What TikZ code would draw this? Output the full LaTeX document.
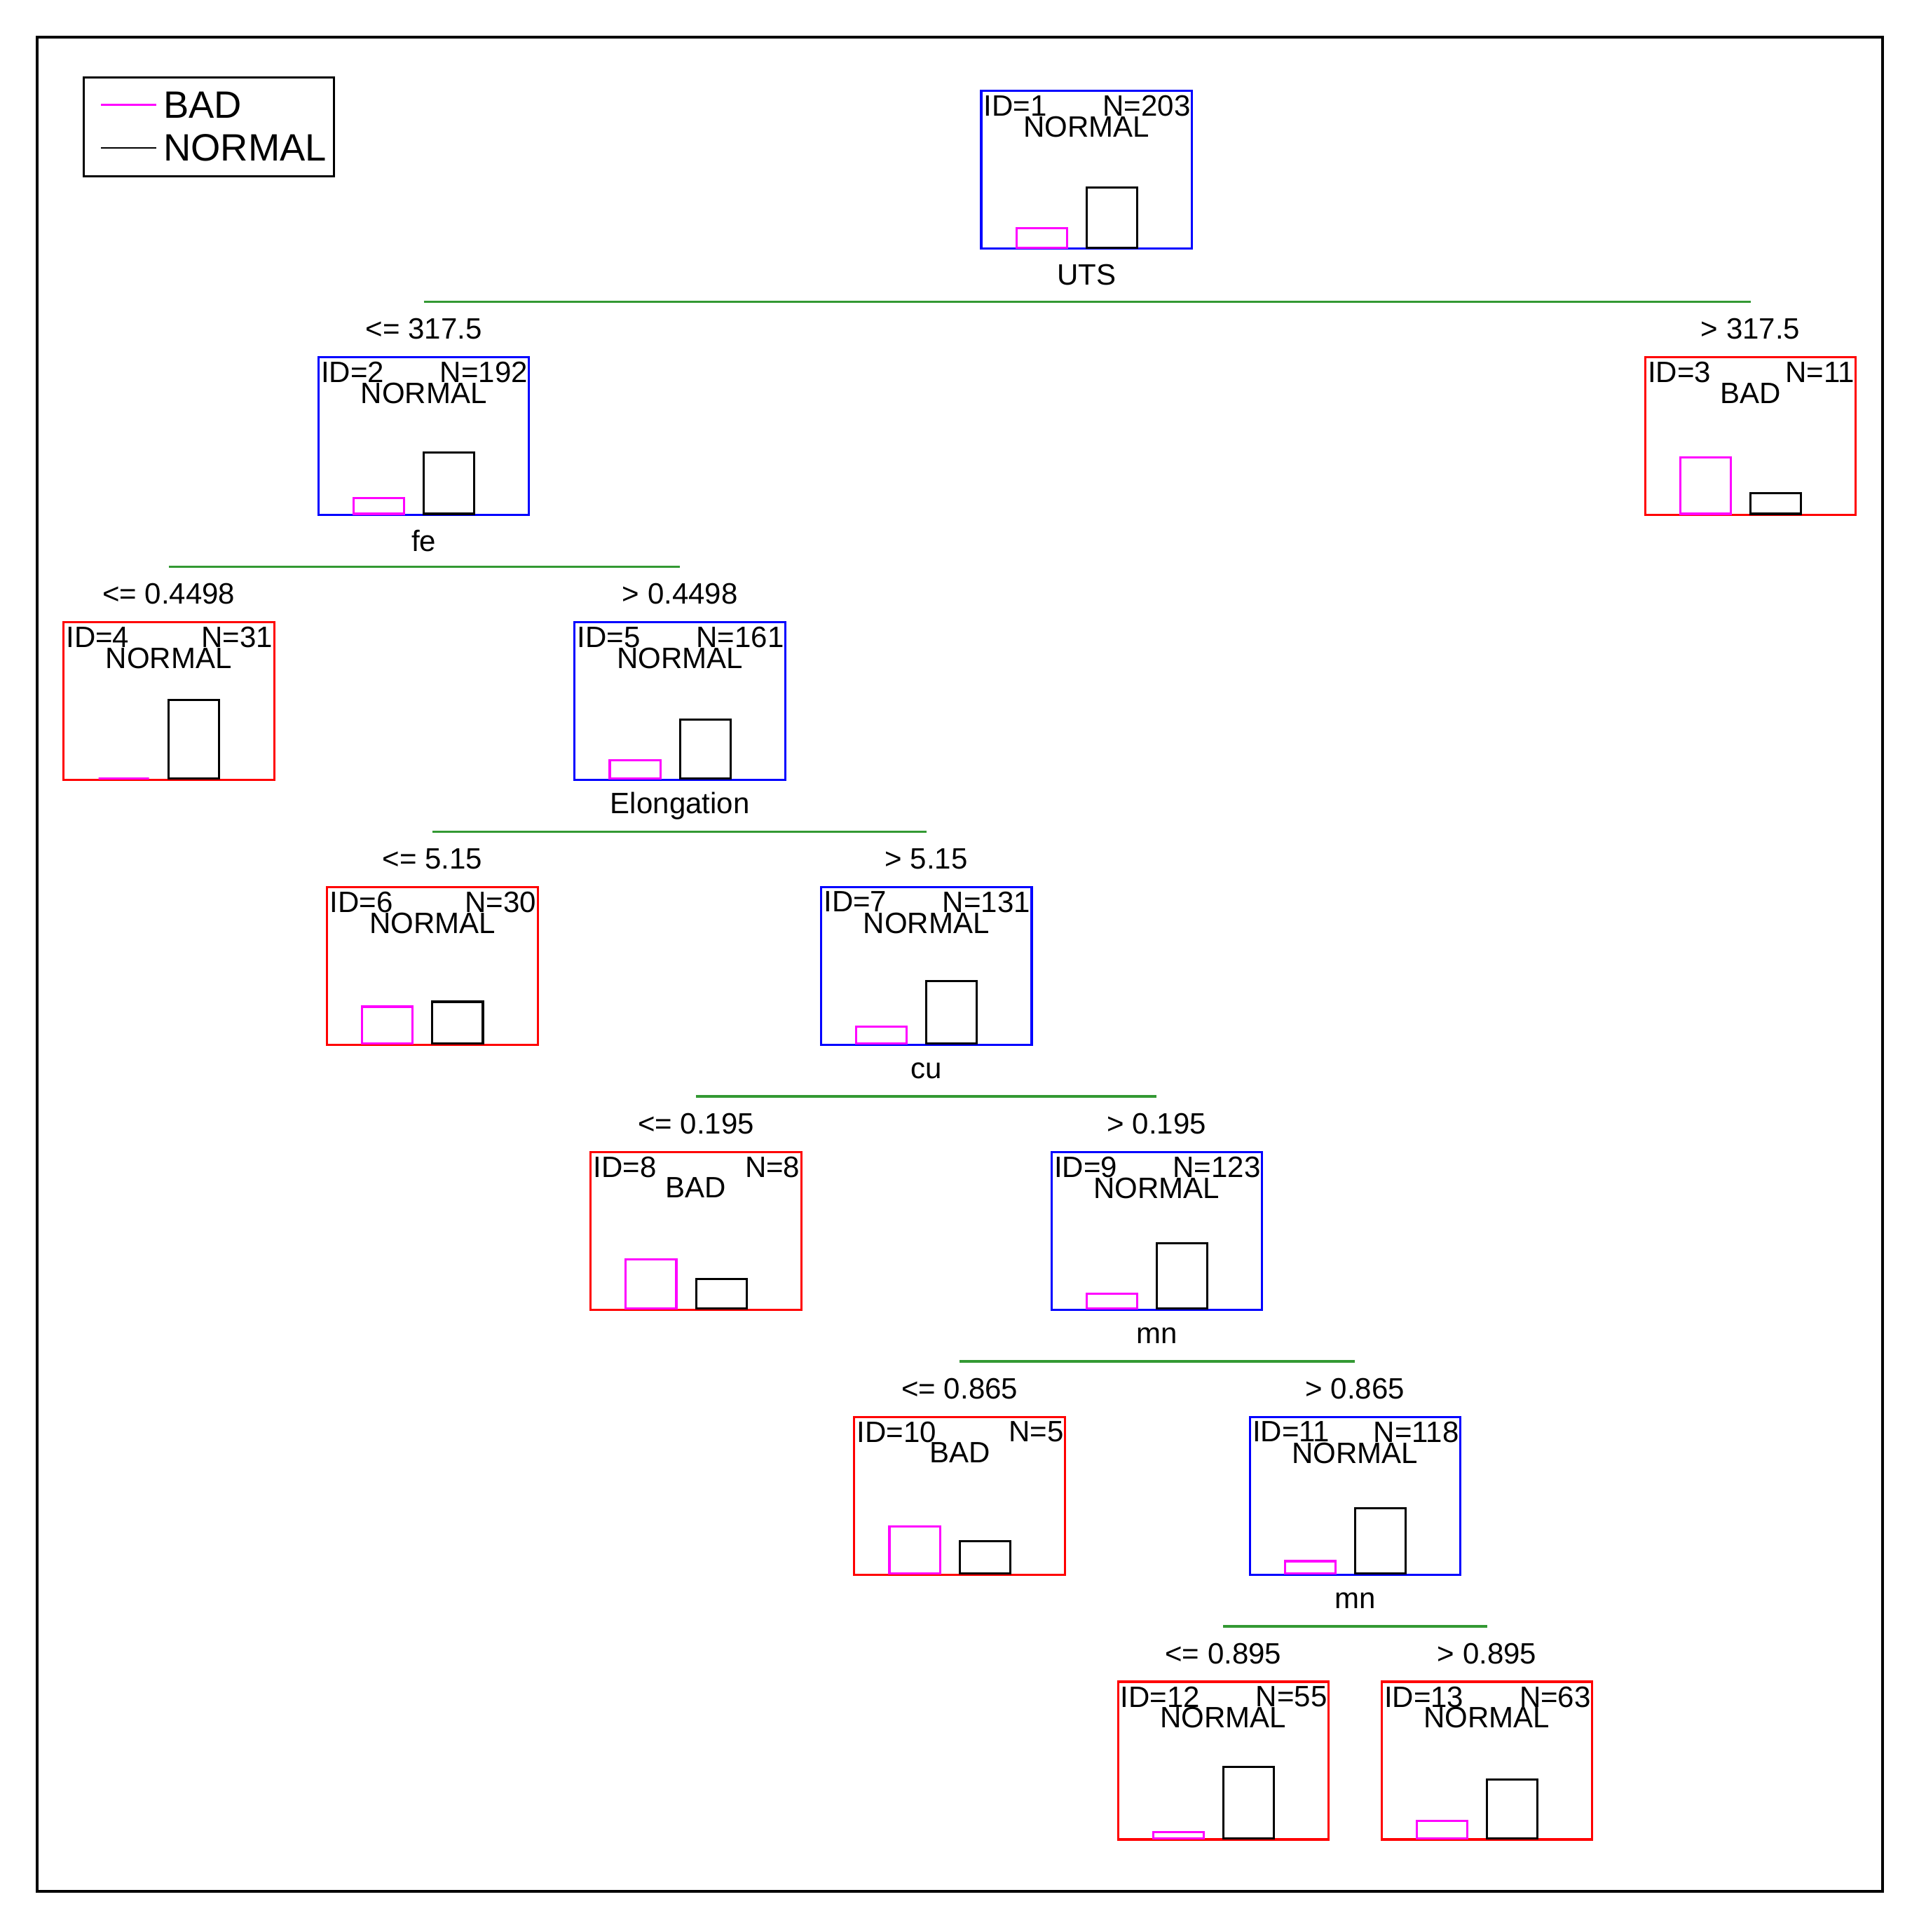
\documentclass[tikz,border=0pt]{standalone}
\usepackage{fontspec}
\setmainfont{Liberation Sans}
\definecolor{mag}{rgb}{1,0,1}
\definecolor{gsplit}{rgb}{0.2,0.6,0.2}
\begin{document}
\begin{tikzpicture}[x=0.1mm,y=-0.1mm,
  txt/.style={inner sep=0pt,font=\fontsize{6.8}{8}\selectfont},
  box/.style={draw=#1,line width=0.5pt,minimum width=17.1mm,minimum height=12.8mm,anchor=north,inner sep=0pt},
  split/.style={draw=gsplit,line width=0.6pt},
  bbar/.style={draw=mag,line width=0.5pt},
  nbar/.style={draw=black,line width=0.5pt}]
\useasboundingbox (0,0) rectangle (1552,1568);
\draw[line width=0.6pt] (30,30) rectangle (1528,1535);
% legend
\node[draw,line width=0.5pt,minimum width=20.3mm,minimum height=8mm,anchor=north west,inner sep=0pt] (leg) at (67,62) {};
\coordinate (lb1) at (82,85); \coordinate (lb2) at (127,85);
\coordinate (ln1) at (82,120); \coordinate (ln2) at (127,120);
\draw[mag] (lb1) -- (lb2);
\draw (ln1) -- (ln2);
\node[txt,anchor=west,font=\fontsize{8.8}{10}\selectfont] (lbt) at (132,85) {BAD};
\node[txt,anchor=west,font=\fontsize{8.8}{10}\selectfont] (lnt) at (132,120) {NORMAL};
% node macro
\newcommand{\tnode}[9]{%
  \node[box=#4] (n#1) at (#2,#3) {};
  \node[txt,anchor=north west] (id#1) at ({#2-84},{#3+4}) {ID=#1};
  \node[txt,anchor=north east] (nn#1) at ({#2+85},{#3+4}) {N=#5};
  \node[txt,anchor=north] (cl#1) at (#2,{#3+21}) {#6};
  \draw[bbar] ({#2-57},{#3+128}) rectangle ({#2-16},{#3+128-#7});
  \draw[nbar] (#2,{#3+128}) rectangle ({#2+41},{#3+128-#8});
  \node[txt] (vl#1) at (#2,{#3+150}) {#9};
}
\tnode{1}{882}{73}{blue}{203}{NORMAL}{16}{49}{UTS}
\tnode{2}{344}{289}{blue}{192}{NORMAL}{13}{50}{fe}
\tnode{3}{1421}{289}{red}{11}{BAD}{46}{17}{}
\tnode{4}{137}{504}{red}{31}{NORMAL}{0}{64}{}
\tnode{5}{552}{504}{blue}{161}{NORMAL}{15}{48}{Elongation}
\tnode{6}{351}{719}{red}{30}{NORMAL}{30}{34}{}
\tnode{7}{752}{719}{blue}{131}{NORMAL}{14}{51}{cu}
\tnode{8}{565}{934}{red}{8}{BAD}{40}{24}{}
\tnode{9}{939}{934}{blue}{123}{NORMAL}{12}{53}{mn}
\tnode{10}{779}{1149}{red}{5}{BAD}{38}{26}{}
\tnode{11}{1100}{1149}{blue}{118}{NORMAL}{10}{53}{mn}
\tnode{12}{993}{1364}{red}{55}{NORMAL}{5}{58}{}
\tnode{13}{1207}{1364}{red}{63}{NORMAL}{14}{48}{}
% splits
\newcommand{\tsplit}[7]{%
  \coordinate (sl#1) at (#2,{#4-44}); \coordinate (sr#1) at (#3,{#4-44});
  \draw[split] (sl#1) -- (sr#1);
  \node[txt] (el#1) at (#2,{#4-22}) {#5};
  \node[txt] (er#1) at (#3,{#4-22}) {#6};
}
\tsplit{1}{344}{1421}{289}{<= 317.5}{> 317.5}{}
\tsplit{2}{137}{552}{504}{<= 0.4498}{> 0.4498}{}
\tsplit{5}{351}{752}{719}{<= 5.15}{> 5.15}{}
\tsplit{7}{565}{939}{934}{<= 0.195}{> 0.195}{}
\tsplit{9}{779}{1100}{1149}{<= 0.865}{> 0.865}{}
\tsplit{11}{993}{1207}{1364}{<= 0.895}{> 0.895}{}
\end{tikzpicture}
\end{document}
